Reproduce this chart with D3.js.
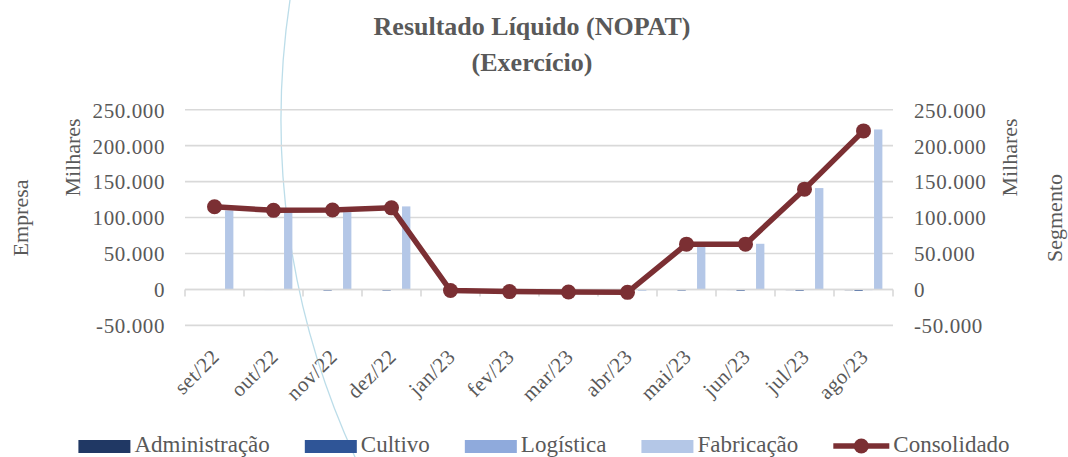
<!DOCTYPE html>
<html><head><meta charset="utf-8">
<script src="https://cdn.jsdelivr.net/npm/d3@7"></script>
<style>
html,body{margin:0;padding:0;background:#fff;}
svg{display:block;}
svg text{font-family:"Liberation Serif","DejaVu Serif",serif !important;fill:#595959;}
</style></head>
<body>
<svg id="chart" width="1068" height="457" font-family="Liberation Serif, DejaVu Serif, serif"></svg>
<script>
const categories = ["set/22","out/22","nov/22","dez/22","jan/23","fev/23","mar/23","abr/23","mai/23","jun/23","jul/23","ago/23"];
const seriesNames = ["Administração","Cultivo","Logística","Fabricação"];
const administracao = [-300,-400,-600,-800,-300,-400,-500,-600,-700,-800,-900,-1000];
const cultivo       = [-500,-800,-1500,-1500,-600,-800,-900,-1000,-1500,-1800,-1800,-2000];
const logistica     = [-200,-300,-400,-500,-300,-400,-400,-500,-600,-700,-800,-900];
const fabricacao    = [110000,109000,107500,115500,-500,-1200,-1500,-2000,59500,63500,141000,222500];
const consolidado   = [115000,110000,110500,113500,-1500,-3000,-3500,-4000,63000,63000,139500,220500];
const yTicks = [-50000,0,50000,100000,150000,200000,250000];
const colors = ["#203864","#2f5597","#8faadc","#b4c7e7"];
const lineColor = "#7b2f33";
const FONT = "'Liberation Serif', 'DejaVu Serif', serif";

const svg = d3.select("#chart");
const plotL = 185, plotR = 893, yTop = 109.7, yBot = 325.4;

const x0 = d3.scaleBand().domain(categories).range([plotL, plotR]).padding(0);
const bw = x0.bandwidth();
const x1 = d3.scaleBand().domain(seriesNames).range([bw*0.18, bw*0.82]).paddingInner(0.15).paddingOuter(0);
const y = d3.scaleLinear().domain([-50000,250000]).range([yBot, yTop]);
const loc = d3.formatLocale({decimal:",",thousands:".",grouping:[3],currency:["R$",""],minus:"-"});
const fmt = loc.format(",.0f");

// decorative arc
const arcPath = d3.path();
arcPath.arc(1085.5, 120, 804.5, Math.PI - 0.45, Math.PI + 0.17, false);
svg.append("path").attr("d", arcPath.toString()).attr("fill","none")
  .attr("stroke","#bcdde9").attr("stroke-width",1.3);

// gridlines
svg.append("g").selectAll("line").data(yTicks).join("line")
  .attr("x1", plotL).attr("x2", plotR)
  .attr("y1", d=>y(d)).attr("y2", d=>y(d))
  .attr("stroke","#d9d9d9").attr("stroke-width",1.6);

// y axes
function styleAxis(g){
  g.select(".domain").remove();
  g.attr("font-family", FONT).attr("font-size", null);
  g.selectAll("text").style("font-family", FONT).style("font-size","21px")
    .style("letter-spacing","0.6px").attr("fill","#595959").attr("dy","0.35em");
}
const leftAxis = d3.axisLeft(y).tickValues(yTicks).tickFormat(fmt).tickSize(0).tickPadding(0);
svg.append("g").attr("transform","translate(165,0)").call(leftAxis).call(styleAxis);
const rightAxis = d3.axisRight(y).tickValues(yTicks).tickFormat(fmt).tickSize(0).tickPadding(0);
svg.append("g").attr("transform","translate(914,0)").call(rightAxis).call(styleAxis);

// bars
const seriesData = [administracao, cultivo, logistica, fabricacao];
seriesData.forEach((vals, si) => {
  svg.append("g").selectAll("rect").data(vals).join("rect")
    .attr("x", (d,i)=>x0(categories[i]) + x1(seriesNames[si]))
    .attr("width", x1.bandwidth())
    .attr("y", d=>Math.min(y(d), y(0)))
    .attr("height", d=>Math.abs(y(d)-y(0)))
    .attr("fill", colors[si]);
});

// x axis line and ticks
svg.append("line").attr("x1",plotL).attr("x2",plotR).attr("y1",y(0)).attr("y2",y(0))
  .attr("stroke","#d9d9d9").attr("stroke-width",1.6);
const tickPos = categories.map(c=>x0(c)).concat([x0(categories[categories.length-1])+bw]);
svg.append("g").selectAll("line").data(tickPos).join("line")
  .attr("x1",d=>d).attr("x2",d=>d).attr("y1",y(0)).attr("y2",y(0)+7)
  .attr("stroke","#d9d9d9").attr("stroke-width",1.6);

// x labels
svg.append("g").selectAll("text").data(categories).join("text")
  .attr("transform", d=>`translate(${x0(d)+bw/2+6},358) rotate(-45)`)
  .attr("text-anchor","end").style("font-family",FONT).style("font-size","21px").style("letter-spacing","0.5px")
  .text(d=>d);

// consolidated line
const line = d3.line().x((d,i)=>x0(categories[i])+bw/2).y(d=>y(d));
svg.append("path").datum(consolidado).attr("d", line).attr("fill","none")
  .attr("stroke", lineColor).attr("stroke-width",5.5).attr("stroke-linejoin","round");
svg.append("g").selectAll("circle").data(consolidado).join("circle")
  .attr("cx",(d,i)=>x0(categories[i])+bw/2).attr("cy",d=>y(d)).attr("r",7.5)
  .attr("fill", lineColor);

// title
const title = svg.append("text").attr("x",532).attr("text-anchor","middle")
  .style("font-family",FONT).style("font-size","26px").style("font-weight","bold");
title.append("tspan").attr("x",532).attr("y",35).text("Resultado Líquido (NOPAT)");
title.append("tspan").attr("x",532).attr("y",71).text("(Exercício)");

// axis titles
function vtext(x, yy, t){
  svg.append("text").attr("transform",`translate(${x},${yy}) rotate(-90)`)
    .attr("text-anchor","middle").style("font-family",FONT).style("font-size","22px").text(t);
}
vtext(80, 157.5, "Milhares");
vtext(28, 218, "Empresa");
vtext(1017, 157.5, "Milhares");
vtext(1062, 218, "Segmento");

// legend
const legendItems = seriesNames.map((n,i)=>({name:n, color:colors[i], type:"rect"}))
  .concat([{name:"Consolidado", color:lineColor, type:"line"}]);
const lg = svg.append("g");
let cx = 0;
legendItems.forEach(it=>{
  const g = lg.append("g").attr("transform",`translate(${cx},0)`);
  if(it.type==="rect"){
    g.append("rect").attr("x",0).attr("y",440).attr("width",52).attr("height",13).attr("fill",it.color);
  } else {
    g.append("line").attr("x1",0).attr("x2",56).attr("y1",446).attr("y2",446).attr("stroke",it.color).attr("stroke-width",5.5);
    g.append("circle").attr("cx",28).attr("cy",446).attr("r",7.5).attr("fill",it.color);
  }
  const sw = it.type==="rect"?52:56;
  const t = g.append("text").attr("x",sw+4).attr("y",452).style("font-family",FONT).style("font-size","23px").text(it.name);
  cx += sw + 4 + t.node().getComputedTextLength() + 35;
});
const totalW = cx - 35;
lg.attr("transform",`translate(${544 - totalW/2},0)`);
</script>
</body></html>
